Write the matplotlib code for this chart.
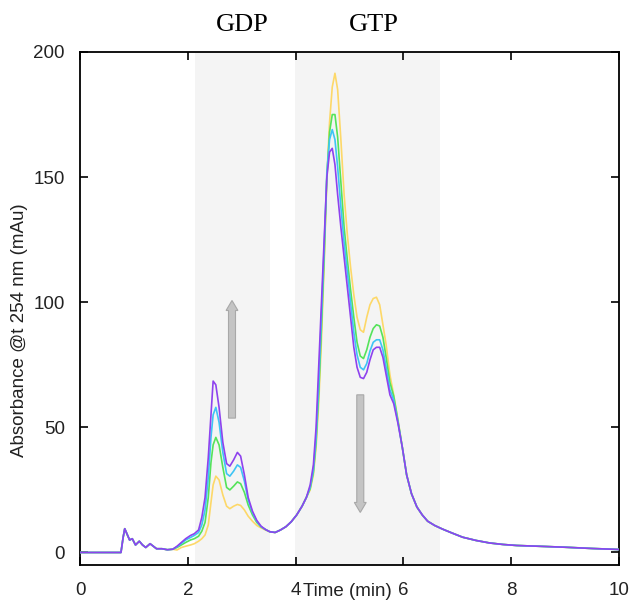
import matplotlib
matplotlib.use("Agg")
import matplotlib.pyplot as plt

# retention time (min)
time = [0, 0.76, 0.80, 0.83, 0.87, 0.92, 0.97, 1.03, 1.10, 1.16, 1.22, 1.30, 1.36, 1.42,
        1.52, 1.62, 1.72, 1.80, 1.88, 1.96, 2.05, 2.12, 2.20, 2.26, 2.32, 2.38, 2.43, 2.47,
        2.52, 2.58, 2.65, 2.72, 2.78, 2.85, 2.92, 2.98, 3.05, 3.12, 3.20, 3.28, 3.36, 3.44,
        3.52, 3.62, 3.72, 3.82, 3.92, 4.02, 4.12, 4.20, 4.27, 4.33, 4.38, 4.43, 4.48, 4.53,
        4.58, 4.63, 4.68, 4.73, 4.78, 4.84, 4.90, 4.96, 5.02, 5.08, 5.14, 5.20, 5.26, 5.32,
        5.38, 5.44, 5.50, 5.56, 5.62, 5.68, 5.75, 5.82, 5.90, 5.98, 6.06, 6.15, 6.25, 6.35,
        6.45, 6.58, 6.72, 6.90, 7.10, 7.35, 7.60, 7.85, 8.10, 8.50, 9.00, 9.50, 10.0]

early = [0, 0, 6, 9.5, 7.5, 5, 5.5, 3, 4.5, 3, 2, 3.5, 2.5, 1.5, 1.5, 1.1, 1.3]
late = [9.2, 8.3, 8, 9, 10.3, 12.3, 15, 18.5, 22]
tail = [31, 23.5, 18.2, 15, 12.5, 10.8, 9.4, 7.8, 6.1, 4.8, 3.8, 3.2, 2.8, 2.5, 2.1, 1.6, 1.2]

yellow = (early
          + [1.0, 2, 2.5, 3, 3.5, 4.5, 5.5, 7, 11, 20, 27, 30.5, 29, 23, 18.5, 17.5, 18.5,
             19.2, 18.8, 17, 14.5, 12.5, 10.8, 9.8]
          + [9.0, 8.3, 8, 9, 10.3, 12.3, 15, 18.5, 22]
          + [25, 31, 42, 60, 85, 115, 150, 172, 186, 191.5, 185, 165, 143, 127, 114, 103,
             94, 89, 88, 94, 99, 101.5, 102, 99, 91, 83, 71, 63, 53, 42]
          + tail)
green = (early
         + [2.0, 3, 4, 5, 5.5, 6.5, 8.5, 12, 22, 36, 43, 46, 43, 34, 26, 25, 26.5,
            28.2, 27.5, 24, 19, 15, 12, 10.2]
         + late
         + [25.5, 32, 44, 64, 90, 118, 150, 168, 175, 175, 166, 148, 130, 117, 105, 94,
            84, 78.5, 77.5, 81, 86, 89.5, 91, 90.5, 86, 78, 68, 62.5, 52.5, 42]
         + tail)
cyan = (early
        + [2.3, 3.6, 5, 6, 6.8, 8, 11, 17, 30, 46, 55, 58, 52, 40, 31.5, 30.5, 32.5,
           35, 34, 28.5, 21, 16, 12.5, 10.3]
        + late
        + [26, 33, 46, 68, 95, 122, 152, 165, 169, 165, 154, 138, 124, 112, 100, 88,
           79, 74, 73, 75.5, 80.5, 84, 85, 85, 81, 74, 65, 61, 52, 42]
        + tail)
purple = (early
          + [2.5, 4, 5.5, 6.8, 7.5, 9, 14, 22, 38, 55, 68.5, 67, 58, 44, 35.5, 34.5, 37,
             40, 38.5, 31, 22, 16.5, 12.8, 10.5]
          + late
          + [27, 35, 50, 75, 100, 125, 150, 160, 161.5, 155, 143, 130, 118, 106, 94, 82,
             74, 70, 69.5, 72, 77, 81, 82, 82, 78, 71, 63, 59.5, 51.5, 42]
          + tail)

series = [("yellow", yellow, "#fdd868"), ("green", green, "#55e35a"),
          ("cyan", cyan, "#3ec4f5"), ("purple", purple, "#8e42ee")]

gdp_span = (2.13, 3.52)
gtp_span = (3.99, 6.68)

plt.rcParams["font.family"] = ["Liberation Sans", "DejaVu Sans"]

fig = plt.figure(figsize=(6.31, 6.02), dpi=100)
ax = fig.add_axes([80 / 631, 37 / 602, 539 / 631, 513 / 602])

ax.axvspan(*gdp_span, color="#f4f4f4", lw=0, zorder=0)
ax.axvspan(*gtp_span, color="#f4f4f4", lw=0, zorder=0)

for name, vals, col in series:
    ax.plot(time, vals, color=col, lw=1.2, zorder=3)

# trend arrows
ax.arrow(2.82, 53.7, 0, 43, width=0.13, head_width=0.22, head_length=4,
         length_includes_head=False, fc="#c4c4c4", ec="#a8a8a8", lw=0.8, zorder=4)
ax.arrow(5.2, 63, 0, -43, width=0.13, head_width=0.22, head_length=4,
         length_includes_head=False, fc="#c4c4c4", ec="#a8a8a8", lw=0.8, zorder=4)

ax.set_xlim(0, 10)
ax.set_ylim(-5, 200)
ax.set_xticks([0, 2, 4, 6, 8, 10])
ax.set_yticks([0, 50, 100, 150, 200])
ax.tick_params(direction="in", top=True, right=True, length=6, width=1.2,
               labelsize=13.5, labelcolor="#222222")
ax.tick_params(axis="y", pad=11)
ax.tick_params(axis="x", pad=12)
for s in ax.spines.values():
    s.set_linewidth(1.3)

fig.text(347 / 631, 1 - 592 / 602, "Time (min)", ha="center", va="center",
         fontsize=13.5, color="#222222")
fig.text(20 / 631, 1 - 330 / 602, "Absorbance @t 254 nm (mAu)", ha="center",
         va="center", rotation=90, fontsize=13.5, color="#222222")
fig.text(242 / 631, 1 - 25 / 602, "GDP", ha="center", va="center",
         fontsize=19, family=["Liberation Serif", "DejaVu Serif"])
fig.text(374 / 631, 1 - 25 / 602, "GTP", ha="center", va="center",
         fontsize=19, family=["Liberation Serif", "DejaVu Serif"])

fig.savefig("out.png", dpi=100)
